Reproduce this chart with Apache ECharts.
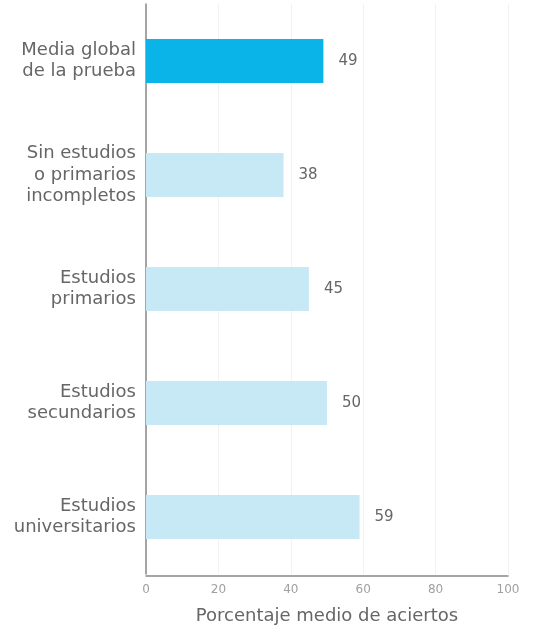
<!DOCTYPE html>
<html><head><meta charset="utf-8">
<script src="https://cdn.jsdelivr.net/npm/echarts@6/dist/echarts.min.js"></script>
<style>html,body{margin:0;padding:0;background:#fff}#c{width:538px;height:627px}</style>
</head><body><div id="c"></div>
<script>
const categories = ["Media global\nde la prueba", "Sin estudios\no primarios\nincompletos", "Estudios\nprimarios", "Estudios\nsecundarios", "Estudios\nuniversitarios"];
const values = [49, 38, 45, 50, 59];
const xTicks = [0, 20, 40, 60, 80, 100];
const axisTitle = "Porcentaje medio de aciertos";

const chart = echarts.init(document.getElementById('c'));
chart.setOption({
  animation: false,
  backgroundColor: '#fff',
  grid: { left: 146, right: 30, top: 4, bottom: 53, containLabel: false, outerBoundsMode: 'none' },
  xAxis: {
    type: 'value', min: xTicks[0], max: xTicks[xTicks.length - 1], interval: 20,
    offset: 2,
    name: axisTitle, nameLocation: 'middle', nameGap: 31,
    nameTextStyle: { color: '#666', fontSize: 18, fontFamily: 'DejaVu Sans' },
    axisLine: { show: true, lineStyle: { color: '#888', width: 1.5 } },
    axisTick: { show: false },
    axisLabel: { color: '#a0a0a0', fontSize: 12, margin: 8, fontFamily: 'DejaVu Sans' },
    splitLine: { show: true, lineStyle: { color: '#f2f2f2', width: 1 } }
  },
  yAxis: {
    type: 'category', data: categories, inverse: true,
    axisLine: { show: true, lineStyle: { color: '#888', width: 1.5 } },
    axisTick: { show: false },
    axisLabel: { color: '#666', fontSize: 18, lineHeight: 21.5, margin: 10, fontFamily: 'DejaVu Sans', align: 'right' },
    splitLine: { show: false }
  },
  series: [{
    type: 'bar', barWidth: 44,
    data: values.map((v, i) => ({ value: v, itemStyle: { color: i === 0 ? '#0ab4e8' : '#c6e9f5' } })),
    label: { show: true, position: 'right', distance: 15, color: '#666', fontSize: 15, fontFamily: 'DejaVu Sans' }
  }]
});
</script></body></html>
